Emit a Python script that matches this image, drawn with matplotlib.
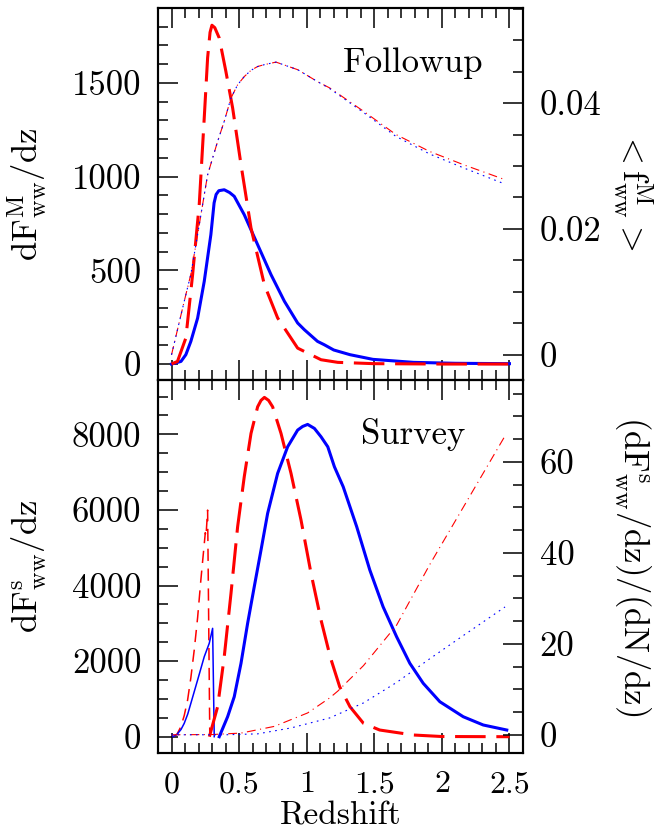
import numpy as np
import matplotlib
matplotlib.use('Agg')
import matplotlib.pyplot as plt
from matplotlib.ticker import MultipleLocator, FuncFormatter

plt.rcParams['font.family'] = 'cmr10'
plt.rcParams['mathtext.fontset'] = 'cm'
plt.rcParams['axes.formatter.use_mathtext'] = True

# ---- Followup panel (left axis: dF/dz) ----
z_fm_solid = [0, 0.07, 0.106, 0.143, 0.193, 0.242, 0.291, 0.315, 0.33, 0.35,
              0.39, 0.43, 0.464, 0.538, 0.637, 0.736, 0.835, 0.933, 0.983,
              1.08, 1.13, 1.2, 1.32, 1.49, 1.79, 2.1, 2.5]
fm_solid = [0, 14, 50, 121, 245, 441, 690, 860, 905, 925, 930, 915, 895, 797,
            637, 477, 335, 219, 183, 121, 103, 75, 50, 25, 9, 4, 2]

z_fm_dash = [0, 0.044, 0.106, 0.156, 0.205, 0.242, 0.267, 0.285, 0.299, 0.32,
             0.353, 0.402, 0.452, 0.514, 0.588, 0.687, 0.785, 0.933, 1.106,
             1.23, 1.5, 2.0, 2.5]
fm_dash = [0, 14, 139, 477, 851, 1313, 1634, 1770, 1808, 1795, 1740, 1562, 1367,
           1064, 726, 423, 246, 85, 23, 9, 2, 0, 0]

# ---- Followup panel (right axis: <f>) ----
z_f = [0.0, 0.094, 0.143, 0.193, 0.267, 0.341, 0.39, 0.44, 0.489, 0.538, 0.588,
       0.637, 0.687, 0.773, 0.933, 1.08, 1.17, 1.42, 1.66, 1.91, 2.16, 2.47]
f_red = [0.0, 0.0085, 0.0128, 0.0191, 0.0286, 0.0339, 0.0371, 0.0408, 0.0429,
         0.0442, 0.0452, 0.0458, 0.0461, 0.0465, 0.0453, 0.0434, 0.0424,
         0.0387, 0.0350, 0.0323, 0.0302, 0.0278]
f_blue = [0.0, 0.0085, 0.0128, 0.0191, 0.0286, 0.0339, 0.0371, 0.0408, 0.0429,
          0.0442, 0.0452, 0.0458, 0.0461, 0.0465, 0.0453, 0.0434, 0.0423,
          0.0385, 0.0347, 0.0319, 0.0297, 0.0271]

# ---- Survey panel (left axis: dF/dz) ----
z_lo_dash = [0.01, 0.04, 0.069, 0.094, 0.119, 0.143, 0.168, 0.193, 0.217,
             0.25, 0.255, 0.267, 0.283]
lo_dash = [0, 60, 265, 560, 971, 1560, 2294, 3150, 4146, 5400, 5300, 5997, 50]

z_lo_solid = [0.01, 0.04, 0.07, 0.094, 0.12, 0.143, 0.193, 0.242, 0.279, 0.304,
              0.316]
lo_solid = [0, 60, 190, 354, 600, 883, 1500, 2116, 2471, 2868, 0]

z_fs_dash = [0.28, 0.341, 0.39, 0.44, 0.489, 0.538, 0.588, 0.637, 0.662, 0.687,
             0.718, 0.748, 0.81, 0.884, 0.958, 1.032, 1.106, 1.175, 1.244,
             1.32, 1.42, 1.54, 1.79, 2.0, 2.5]
fs_dash = [0, 794, 2116, 3794, 5556, 6878, 8026, 8730, 8900, 8979, 8900, 8730,
           8026, 6968, 5733, 4323, 3087, 2100, 1323, 794, 354, 177, 45, 5, 0]

z_fs_solid = [0.353, 0.415, 0.464, 0.514, 0.563, 0.612, 0.662, 0.711, 0.785,
              0.859, 0.933, 0.97, 1.007, 1.057, 1.106, 1.156, 1.205, 1.27,
              1.37, 1.467, 1.565, 1.665, 1.763, 1.862, 1.985, 2.158, 2.306,
              2.48]
fs_solid = [0, 529, 1058, 1942, 3000, 3968, 4939, 5910, 6968, 7672, 8114, 8210,
            8264, 8158, 7937, 7672, 7143, 6614, 5556, 4410, 3439, 2646, 1942,
            1413, 926, 529, 310, 177]

# ---- Survey panel (right axis: ratio) ----
z_r_red = [0.0, 0.3, 0.514, 0.76, 1.007, 1.17, 1.23, 1.42, 1.665, 1.91, 2.158,
           2.467]
r_red = [0, 0.05, 0.37, 1.84, 4.8, 8.1, 9.6, 15.2, 24.1, 37.4, 50, 65.7]
z_r_blue = [0.0, 0.4, 0.637, 0.884, 1.17, 1.42, 1.665, 1.91, 2.158, 2.467]
r_blue = [0, 0.0, 0.2, 1.5, 3.7, 7.0, 11.5, 16.7, 21.8, 28.1]

FS = 25
THICK = 2.2
THIN = 0.8
fmt = FuncFormatter(lambda v, p: '%g' % round(v, 6))


def style(ax):
    for s in ax.spines.values():
        s.set_linewidth(1.5)
    ax.tick_params(which='both', direction='in', width=1.1, labelsize=FS)
    ax.tick_params(which='major', length=14.4)
    ax.tick_params(which='minor', length=7.2)


fig = plt.figure(figsize=(6.6, 8.32), dpi=100)
ax1 = fig.add_axes([0.2394, 0.5433, 0.553, 0.4471])
ax2 = fig.add_axes([0.2394, 0.0950, 0.553, 0.4483], sharex=ax1)
ax1r = ax1.twinx()
ax2r = ax2.twinx()

# top panel
ax1.plot(z_fm_solid, fm_solid, color='blue', lw=THICK)
ax1.plot(z_fm_dash, fm_dash, color='red', lw=THICK, ls=(0, (10, 3.5)))
ax1r.plot(z_f, f_red, color='red', lw=THIN, ls=(0, (8, 4, 1, 4)))
ax1r.plot(z_f, f_blue, color='blue', lw=THIN, ls=(0, (1.5, 4)))
ax1.set_xlim(-0.1, 2.6)
ax1.set_ylim(-85, 1900)
ax1r.set_ylim(-0.004, 0.0551)
ax1.text(0.70, 0.852, 'Followup', transform=ax1.transAxes, fontsize=FS,
         ha='center', va='center')

# bottom panel
ax2.plot(z_lo_dash, lo_dash, color='red', lw=1.1, ls=(0, (8, 5)))
ax2.plot(z_lo_solid, lo_solid, color='blue', lw=1.1)
ax2.plot(z_fs_dash, fs_dash, color='red', lw=THICK, ls=(0, (10, 3.5)))
ax2.plot(z_fs_solid, fs_solid, color='blue', lw=THICK)
ax2r.plot(z_r_red, r_red, color='red', lw=THIN, ls=(0, (8, 4, 1, 4)))
ax2r.plot(z_r_blue, r_blue, color='blue', lw=THIN, ls=(0, (1.5, 4)))
ax2.set_ylim(-430, 9440)
ax2r.set_ylim(-4, 78)
ax2.text(0.70, 0.853, 'Survey', transform=ax2.transAxes, fontsize=FS,
         ha='center', va='center')

for ax in (ax1, ax2, ax1r, ax2r):
    style(ax)

ax1.xaxis.set_major_locator(MultipleLocator(0.5))
ax1.xaxis.set_minor_locator(MultipleLocator(0.1))
ax1.xaxis.set_major_formatter(fmt)
for ax in (ax1, ax2):
    ax.tick_params(axis='x', which='both', top=True, bottom=True)
    ax.tick_params(axis='x', pad=13, labelsize=23)
    ax.tick_params(axis='y', pad=12)
ax1.tick_params(axis='x', labelbottom=False)

ax1.yaxis.set_major_locator(MultipleLocator(500))
ax1.yaxis.set_minor_locator(MultipleLocator(100))
ax1r.yaxis.set_major_locator(MultipleLocator(0.02))
ax1r.yaxis.set_minor_locator(MultipleLocator(0.005))
ax2.yaxis.set_major_locator(MultipleLocator(2000))
ax2.yaxis.set_minor_locator(MultipleLocator(500))
ax2r.yaxis.set_major_locator(MultipleLocator(20))
ax2r.yaxis.set_minor_locator(MultipleLocator(5))
for ax in (ax1, ax2, ax1r, ax2r):
    ax.yaxis.set_major_formatter(fmt)
for ax in (ax1r, ax2r):
    ax.tick_params(axis='y', pad=12)

ax1.set_ylabel(r'$\mathrm{dF^M_{ww}/dz}$', fontsize=FS)
ax1.yaxis.set_label_coords(-0.30, 0.5)
ax2.set_ylabel(r'$\mathrm{dF^s_{ww}/dz}$', fontsize=FS)
ax2.yaxis.set_label_coords(-0.30, 0.5)
ax1r.set_ylabel(r'$<\mathrm{f^M_{ww}}>$', fontsize=FS, rotation=270,
                va='center')
ax1r.yaxis.set_label_coords(1.30, 0.51)
ax2r.set_ylabel(r'$\mathrm{(dF^s_{ww}/dz)/(dN/dz)}$', fontsize=FS,
                rotation=270, va='center')
ax2r.yaxis.set_label_coords(1.30, 0.5)
ax2.set_xlabel('Redshift', fontsize=24)
ax2.xaxis.set_label_coords(0.5, -0.129)

fig.savefig('out.png', dpi=100)
